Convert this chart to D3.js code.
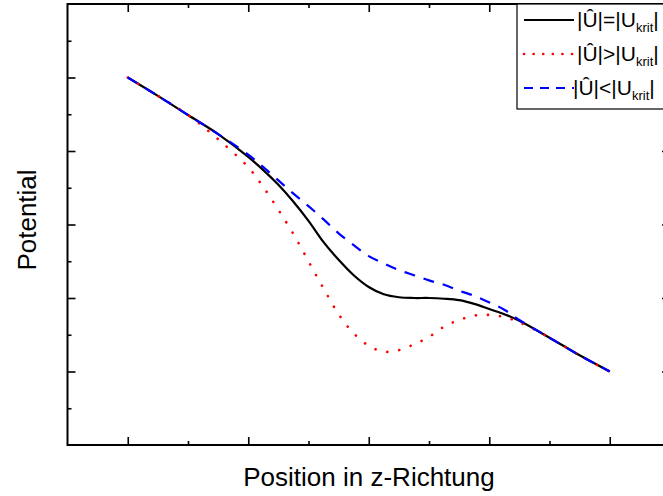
<!DOCTYPE html>
<html lang="de">
<head>
    <meta charset="UTF-8">
    <title>Potential</title>
    <script src="https://cdn.jsdelivr.net/npm/d3@7"></script>
    <style>
        body { margin: 0; background: #fff; }
        svg { display: block; }
        text { font-family: "Liberation Sans", Arial, sans-serif; fill: #000; }
    </style>
</head>
<body>

<script>
    // Position (arbitrary units) and the three potential curves
    var posZ = [1, 1.5, 2, 2.5, 3, 3.25, 3.5, 3.75, 4, 4.25, 4.5, 4.75, 5,
                5.25, 5.5, 5.75, 6, 6.25, 6.5, 6.75, 7, 7.25, 7.5, 8, 8.5, 9];
    var potKrit = [5.0, 4.75, 4.49, 4.23, 3.92, 3.74, 3.54, 3.31, 3.05, 2.76, 2.52, 2.31, 2.15,
                   2.05, 2.01, 2.0, 2.0, 1.99, 1.97, 1.92, 1.85, 1.78, 1.69, 1.46, 1.22, 1.0];
    var potGross = [5.0, 4.75, 4.49, 4.16, 3.78, 3.51, 3.2, 2.87, 2.5, 2.13, 1.78, 1.52, 1.35,
                    1.27, 1.29, 1.37, 1.47, 1.61, 1.7, 1.76, 1.77, 1.74, 1.67, 1.46, 1.22, 1.0];
    var potKlein = [5.0, 4.75, 4.49, 4.23, 3.95, 3.78, 3.6, 3.42, 3.25, 3.07, 2.88, 2.72, 2.57,
                    2.47, 2.38, 2.31, 2.24, 2.18, 2.1, 2.03, 1.94, 1.84, 1.7, 1.46, 1.22, 1.0];

    var xMajor = [1, 3, 5, 7, 9];
    var xMinor = [2, 4, 6, 8];
    var yMajor = [1, 2, 3, 4, 5];
    var yMinor = [0.5, 1.5, 2.5, 3.5, 4.5, 5.5];

    var seriesNames = ['=', '>', '<'];
    var seriesColors = ['#000000', '#ff0000', '#0000ff'];
    var seriesDash = [null, '0.1,12', '11,9'];
    var legendDash = [null, '0.1,9.5', '9,7'];

    (function () {
        var width = 663;
        var height = 496;
        var mLeft = 67.5, mRight = 670, mTop = 4, mBottom = 445;

        var svg = d3.select('body')
                .append('svg')
                .attr('width', width)
                .attr('height', height);

        var x = d3.scaleLinear().domain([0, 10]).range([mLeft, mRight]);
        var y = d3.scaleLinear().domain([0, 6]).range([mBottom, mTop]);

        function drawAxis(gen, tx, ty, vals, size) {
            var g = svg.append('g')
                    .attr('transform', 'translate(' + tx + ',' + ty + ')')
                    .call(gen.tickValues(vals).tickSize(-size).tickFormat(''));
            g.select('.domain').remove();
            g.selectAll('line').attr('stroke', '#000').attr('stroke-width', 1.6);
        }

        drawAxis(d3.axisBottom(x), 0, mBottom, xMajor, 8);
        drawAxis(d3.axisBottom(x), 0, mBottom, xMinor, 4);
        drawAxis(d3.axisTop(x), 0, mTop, xMajor, 8);
        drawAxis(d3.axisTop(x), 0, mTop, xMinor, 4);
        drawAxis(d3.axisLeft(y), mLeft, 0, yMajor, 8);
        drawAxis(d3.axisLeft(y), mLeft, 0, yMinor, 4);
        drawAxis(d3.axisRight(y), mRight, 0, yMajor, 8);
        drawAxis(d3.axisRight(y), mRight, 0, yMinor, 4);

        // frame
        svg.append('rect')
                .attr('x', mLeft).attr('y', mTop)
                .attr('width', mRight - mLeft).attr('height', mBottom - mTop)
                .attr('fill', 'none')
                .attr('stroke', '#000')
                .attr('stroke-width', 2);

        var line = d3.line()
                .x(function (d) { return x(d[0]); })
                .y(function (d) { return y(d[1]); })
                .curve(d3.curveCatmullRom.alpha(0.5));

        var curves = [potKrit, potGross, potKlein];
        curves.forEach(function (c, i) {
            var pts = posZ.map(function (p, j) { return [p, c[j]]; });
            svg.append('path')
                    .attr('d', line(pts))
                    .attr('fill', 'none')
                    .attr('stroke', seriesColors[i])
                    .attr('stroke-width', i === 1 ? 2.6 : 2.2)
                    .attr('stroke-linecap', i === 1 ? 'round' : 'butt')
                    .attr('stroke-dasharray', seriesDash[i]);
        });

        // legend
        var leg = svg.append('g');
        leg.append('rect')
                .attr('x', 517).attr('y', mTop)
                .attr('width', 200).attr('height', 105)
                .attr('fill', '#fff')
                .attr('stroke', '#000')
                .attr('stroke-width', 1.2);

        var rowY = [20, 54, 88];
        var textX = [577, 577, 573];
        seriesNames.forEach(function (op, i) {
            leg.append('line')
                    .attr('x1', 524).attr('x2', 574)
                    .attr('y1', rowY[i]).attr('y2', rowY[i])
                    .attr('stroke', seriesColors[i])
                    .attr('stroke-width', i === 1 ? 2.6 : 2.2)
                    .attr('stroke-linecap', i === 1 ? 'round' : 'butt')
                    .attr('stroke-dasharray', legendDash[i]);
            var t = leg.append('text')
                    .attr('x', textX[i])
                    .attr('y', rowY[i] + 7)
                    .attr('font-size', 21);
            t.append('tspan').text('|Û|' + op + '|U');
            t.append('tspan').attr('font-size', 13).attr('dy', 5).text('krit');
            t.append('tspan').attr('dy', -5).text('|');
        });

        // axis titles
        svg.append('text')
                .attr('x', 369)
                .attr('y', 486)
                .attr('text-anchor', 'middle')
                .attr('font-size', 26)
                .text('Position in z-Richtung');

        svg.append('text')
                .attr('transform', 'translate(36,220) rotate(-90)')
                .attr('text-anchor', 'middle')
                .attr('font-size', 26)
                .text('Potential');
    })();
</script>
</body>
</html>
